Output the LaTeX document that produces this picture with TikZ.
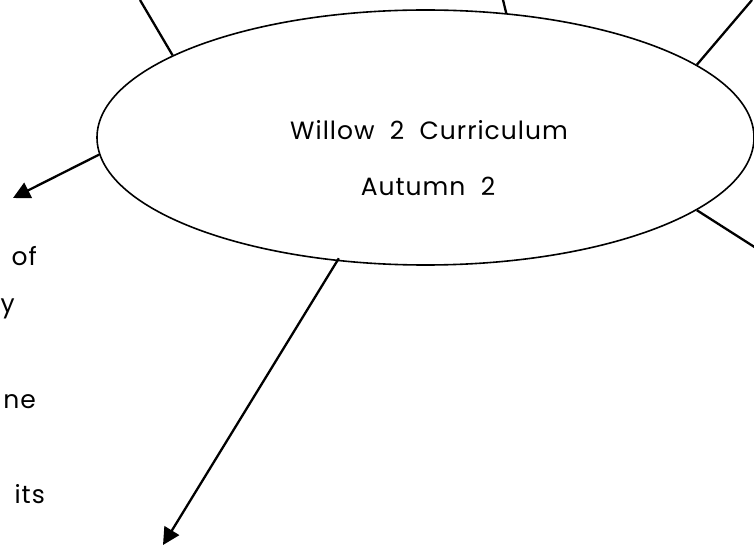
\documentclass[tikz,border=0pt]{standalone}
\usepackage{fontspec}
\setmainfont{Poppins}[LetterSpace=4]
\usetikzlibrary{arrows.meta,shapes.geometric}
\begin{document}
\begin{tikzpicture}[x=1pt,y=-1pt,
  hub/.style={draw,ellipse,line width=1.6pt,minimum width=657pt,minimum height=255pt,inner sep=0pt},
  link/.style={line width=2.3pt},
  arrowlink/.style={line width=2.3pt,-{Triangle[length=17pt,width=17pt]}},
  title/.style={font=\fontsize{25}{30}\selectfont,inner sep=0pt},
  frag/.style={font=\fontsize{25}{30}\selectfont,inner sep=0pt,anchor=base east}]
\useasboundingbox (0,0) rectangle (754,545);
\node[hub] (e) at (425.5,137.5) {};
\node[title] (t1) at (429,130) {Willow\ \ 2\ \ Curriculum};
\node[title] (t2) at (428,186) {Autumn\ \ 2};
\coordinate (p1) at (140,0);
\coordinate (p2) at (503,0);
\coordinate (p3) at (752,0);
\coordinate (p4) at (756,248);
\coordinate (p5) at (13,198);
\coordinate (p6) at (163,545);
\draw[link] (e.162) -- (p1);
\draw[link] (e.57) -- (p2);
\draw[link] (e.15) -- (p3);
\draw[link] (e.-15) -- (p4);
\draw[arrowlink] (e.183.2) -- (p5);
\draw[arrowlink] ([yshift=3pt]e.235.3) -- (p6);
\node[frag] (f1) at (37,265) {of};
\node[frag] (f2) at (15,312) {y};
\node[frag] (f3) at (36,408) {ne};
\node[frag] (f4) at (45,503) {its};
\end{tikzpicture}
\end{document}
